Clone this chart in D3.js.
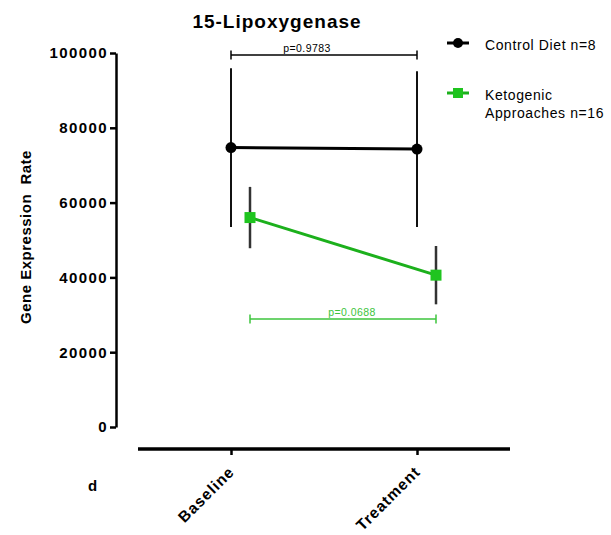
<!DOCTYPE html>
<html>
<head>
<meta charset="utf-8">
<script src="https://cdn.jsdelivr.net/npm/d3@7"></script>
<style>
  body { margin: 0; background: #fff; }
  text { font-family: "Liberation Sans", Arial, sans-serif; }
</style>
</head>
<body>
<div id="chart"></div>
<script>
// donnees
var categories = ["Baseline", "Treatment"];
var controlMean = [74700, 74300];
var controlSD = [21200, 20800];
var ketoMean = [56000, 40600];
var ketoSD = [8200, 7800];
var yTicks = [0, 20000, 40000, 60000, 80000, 100000];
var seriesNames = ["Control Diet n=8", "Ketogenic|Approaches n=16"];
var pValues = ["p=0.9783", "p=0.0688"];

var W = 611, H = 535;
var green = "#1fc41f";

var svg = d3.select("#chart").append("svg")
    .attr("width", W)
    .attr("height", H);

// echelles
var x = d3.scalePoint().domain(categories).range([231, 417]);
var dodge = 19;
var y = d3.scaleLinear().domain([0, 100000]).range([427, 53]);

// Axe Y
var gy = svg.append("g")
    .attr("transform", "translate(116,0)")
    .call(d3.axisLeft(y).tickValues(yTicks).tickSize(6).tickSizeOuter(0).tickFormat(d3.format("d")));
gy.select(".domain").attr("stroke-width", 2.5);
gy.selectAll(".tick line").attr("stroke-width", 2.5);
gy.selectAll(".tick text")
    .attr("x", -8)
    .style("font-size", "15px")
    .style("font-weight", "bold")
    .style("letter-spacing", "1.4px")
    .attr("fill", "#000");

// Axe X
svg.append("line")
    .attr("x1", 138).attr("x2", 510)
    .attr("y1", 449).attr("y2", 449)
    .attr("stroke", "#000").attr("stroke-width", 3.5);

var gx = svg.append("g")
    .attr("transform", "translate(0,449)")
    .call(d3.axisBottom(x).tickSize(6).tickSizeOuter(0));
gx.select(".domain").remove();
gx.selectAll(".tick line").attr("stroke-width", 2.5);
gx.selectAll(".tick text")
    .attr("transform", "translate(0,20) rotate(-45)")
    .attr("x", 0).attr("y", 0).attr("dy", "0.35em")
    .style("text-anchor", "end")
    .style("font-size", "15.5px")
    .style("font-weight", "bold")
    .style("letter-spacing", "1px")
    .attr("fill", "#000");

// Titre de l'axe Y
svg.append("text")
    .attr("transform", "translate(31,237) rotate(-90)")
    .attr("text-anchor", "middle")
    .style("font-size", "15px")
    .style("font-weight", "bold")
    .style("letter-spacing", "0.5px")
    .style("white-space", "pre")
    .text("Gene Expression  Rate");

// Titre
svg.append("text")
    .attr("x", 277).attr("y", 28)
    .attr("text-anchor", "middle")
    .style("font-size", "19px")
    .style("font-weight", "bold")
    .style("letter-spacing", "1px")
    .text("15-Lipoxygenase");

// lettre du panneau
svg.append("text")
    .attr("x", 88).attr("y", 491)
    .style("font-size", "15px")
    .style("font-weight", "bold")
    .text("d");

// Control : barres d'erreur
svg.selectAll(".errC")
    .data(categories)
    .enter().append("line")
    .attr("x1", function (d) { return x(d); })
    .attr("x2", function (d) { return x(d); })
    .attr("y1", function (d, i) { return y(controlMean[i] + controlSD[i]); })
    .attr("y2", function (d, i) { return y(controlMean[i] - controlSD[i]); })
    .attr("stroke", "#111").attr("stroke-width", 2);

// Keto : barres d'erreur
svg.selectAll(".errK")
    .data(categories)
    .enter().append("line")
    .attr("x1", function (d) { return x(d) + dodge; })
    .attr("x2", function (d) { return x(d) + dodge; })
    .attr("y1", function (d, i) { return y(ketoMean[i] + ketoSD[i]); })
    .attr("y2", function (d, i) { return y(ketoMean[i] - ketoSD[i]); })
    .attr("stroke", "#333").attr("stroke-width", 2.5);

// lignes
var lineC = d3.line()
    .x(function (d, i) { return x(categories[i]); })
    .y(function (d) { return y(d); });
svg.append("path")
    .datum(controlMean)
    .attr("d", lineC)
    .attr("fill", "none").attr("stroke", "#000").attr("stroke-width", 3);

var lineK = d3.line()
    .x(function (d, i) { return x(categories[i]) + dodge; })
    .y(function (d) { return y(d); });
svg.append("path")
    .datum(ketoMean)
    .attr("d", lineK)
    .attr("fill", "none").attr("stroke", "#1cb01c").attr("stroke-width", 3);

// points
svg.selectAll(".ptC")
    .data(controlMean)
    .enter().append("circle")
    .attr("cx", function (d, i) { return x(categories[i]); })
    .attr("cy", function (d) { return y(d); })
    .attr("r", 5.5)
    .attr("fill", "#000");

svg.selectAll(".ptK")
    .data(ketoMean)
    .enter().append("rect")
    .attr("x", function (d, i) { return x(categories[i]) + dodge - 5.5; })
    .attr("y", function (d) { return y(d) - 5.5; })
    .attr("width", 11).attr("height", 11)
    .attr("fill", green);

// crochets de p
function bracket(yPos, x1, x2, color, label, textX) {
    var g = svg.append("g").attr("stroke", color);
    g.append("line").attr("x1", x1).attr("x2", x2).attr("y1", yPos).attr("y2", yPos).attr("stroke-width", 1.5);
    g.append("line").attr("x1", x1).attr("x2", x1).attr("y1", yPos - 4.5).attr("y2", yPos + 4.5).attr("stroke-width", 1.5);
    g.append("line").attr("x1", x2).attr("x2", x2).attr("y1", yPos - 4.5).attr("y2", yPos + 4.5).attr("stroke-width", 1.5);
    svg.append("text")
        .attr("x", textX).attr("y", yPos - 3)
        .attr("text-anchor", "middle")
        .attr("fill", color)
        .style("font-size", "10.5px")
        .style("letter-spacing", "0.4px")
        .text(label);
}
bracket(55, x(categories[0]), x(categories[1]), "#000", pValues[0], 307);
bracket(319, x(categories[0]) + dodge, x(categories[1]) + dodge, "#3cc43c", pValues[1], 352);

// Legende
var leg = svg.append("g").attr("transform", "translate(447,0)");
leg.append("line").attr("x1", 0).attr("x2", 22).attr("y1", 43).attr("y2", 43)
    .attr("stroke", "#000").attr("stroke-width", 3);
leg.append("circle").attr("cx", 11).attr("cy", 43).attr("r", 5).attr("fill", "#000");
leg.append("text").attr("x", 38).attr("y", 50)
    .style("font-size", "14px").style("letter-spacing", "0.6px").text(seriesNames[0]);

leg.append("line").attr("x1", 0).attr("x2", 22).attr("y1", 93).attr("y2", 93)
    .attr("stroke", "#1cb01c").attr("stroke-width", 3);
leg.append("rect").attr("x", 6).attr("y", 88).attr("width", 10).attr("height", 10).attr("fill", green);
var kt = seriesNames[1].split("|");
leg.append("text").attr("x", 38).attr("y", 100)
    .style("font-size", "14px").style("letter-spacing", "0.6px").text(kt[0]);
leg.append("text").attr("x", 38).attr("y", 118)
    .style("font-size", "14px").style("letter-spacing", "0.6px").text(kt[1]);
</script>
</body>
</html>
